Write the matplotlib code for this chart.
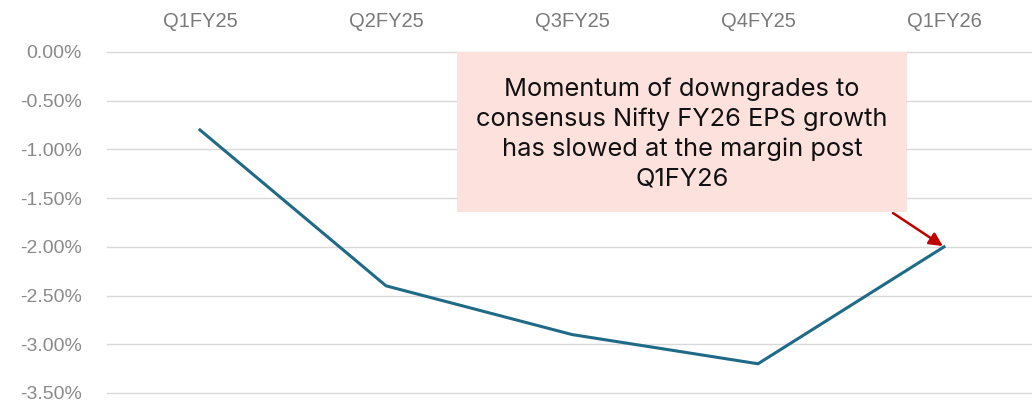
import matplotlib
matplotlib.use("Agg")
import matplotlib.pyplot as plt
import numpy as np

quarters = ["Q1FY25", "Q2FY25", "Q3FY25", "Q4FY25", "Q1FY26"]
eps_revision = [-0.80, -2.40, -2.90, -3.20, -2.00]
y_ticks = [0.0, -0.5, -1.0, -1.5, -2.0, -2.5, -3.0, -3.5]
note = ("Momentum of downgrades to\nconsensus Nifty FY26 EPS growth\n"
        "has slowed at the margin post\nQ1FY26")


def main():
    plt.rcParams["font.family"] = ["Liberation Sans", "DejaVu Sans"]
    fig = plt.figure(figsize=(10.32, 4.01), dpi=100)
    W, H = 1032, 401
    ax = fig.add_axes([107 / W, (H - 393) / H, (1037 - 107) / W, (393 - 52) / H])

    x = np.arange(len(quarters))
    ax.plot(x, eps_revision, color="#1f6a87", linewidth=2.2, solid_joinstyle="miter")

    ax.set_xlim(-0.5, len(quarters) - 0.5)
    ax.set_ylim(-3.5, 0.0)
    ax.set_yticks(y_ticks)
    ax.set_yticklabels(["{:.2f}%".format(v) for v in y_ticks])
    ax.set_xticks(x)
    ax.set_xticklabels(quarters)
    ax.xaxis.tick_top()
    ax.tick_params(axis="x", length=0, pad=15, labelsize=14.5, labelcolor="#7a7a7a")
    ax.tick_params(axis="y", length=0, pad=18, labelsize=14, labelcolor="#8a8a8a")
    ax.grid(axis="y", color="#d9d9d9", linewidth=1.0)
    for gl in ax.get_ygridlines():
        gl.set_clip_on(False)
    ax.set_axisbelow(True)
    for s in ax.spines.values():
        s.set_visible(False)

    # annotation box
    box = plt.Rectangle((457 / W, (H - 212) / H), 450 / W, 160 / H,
                        transform=fig.transFigure, facecolor="#fde1dc",
                        edgecolor="none", zorder=3)
    fig.patches.append(box)
    fig.text(682 / W, (H - 134) / H, note, ha="center", va="center",
             fontsize=18.3, color="#111111", linespacing=1.36,
             family=["Inter", "DejaVu Sans"], zorder=4)

    ax.annotate("", xy=(x[-1], eps_revision[-1]), xytext=(893 / W, (H - 213) / H),
                textcoords="figure fraction",
                arrowprops=dict(arrowstyle="-|>", color="#c00000", lw=1.8,
                                mutation_scale=20, shrinkA=0, shrinkB=1))

    fig.savefig("out.png", dpi=100)


if __name__ == "__main__":
    main()
